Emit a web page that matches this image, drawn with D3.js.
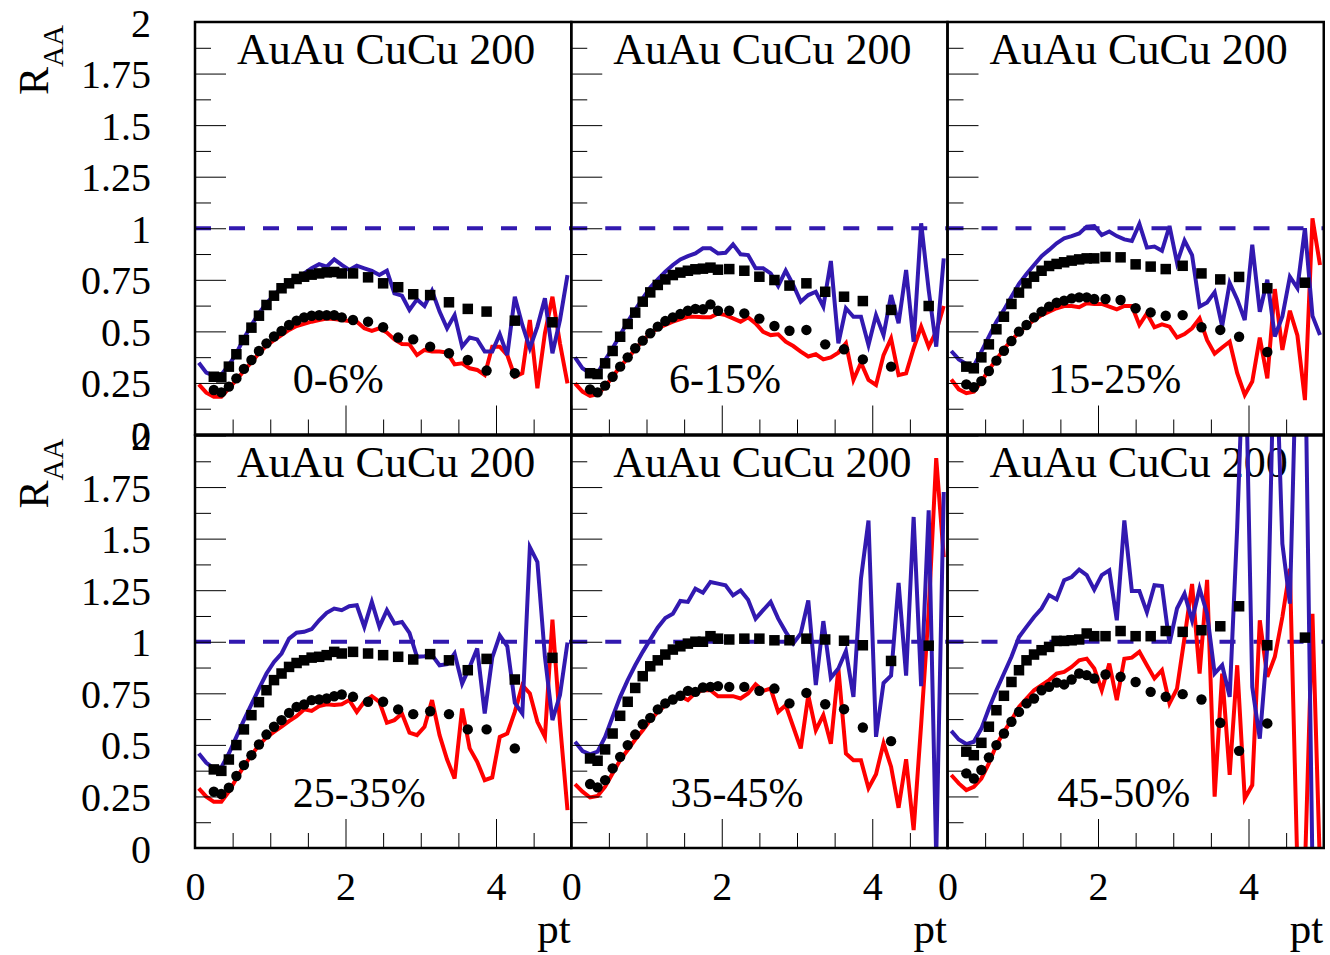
<!DOCTYPE html>
<html>
<head>
<meta charset="utf-8">
<script src="https://cdn.jsdelivr.net/npm/d3@7"></script>
<style>
  body { margin: 0; background: #fff; }
  text { font-family: "Liberation Serif", "Times New Roman", serif; fill: #000; }
</style>
</head>
<body>
<div id="chart"></div>
<script>
// pt bin centres of the model curves and of the data points
const ptLine = [0.05,0.15,0.25,0.35,0.45,0.55,0.65,0.75,0.85,0.95,1.05,1.15,1.25,1.35,1.45,1.55,1.65,1.75,1.85,1.95,
  2.05,2.15,2.25,2.35,2.45,2.55,2.65,2.75,2.85,2.95,3.05,3.15,3.25,3.35,3.45,3.55,3.65,3.75,3.85,3.95,
  4.05,4.15,4.25,4.35,4.45,4.55,4.65,4.75,4.85,4.95];
const ptMarker = [0.25,0.35,0.45,0.55,0.65,0.75,0.85,0.95,1.05,1.15,1.25,1.35,1.45,1.55,1.65,1.75,1.85,1.95,
  2.1,2.3,2.5,2.7,2.9,3.125,3.375,3.625,3.875,4.25,4.75];

const centralities = ["0-6%", "6-15%", "15-25%", "25-35%", "35-45%", "45-50%"];
const centLabelX = [1.3, 1.3, 1.34, 1.3, 1.32, 1.46];
const systemLabel = "AuAu CuCu 200";

const yMajor = [0, 0.25, 0.5, 0.75, 1, 1.25, 1.5, 1.75, 2];
const yMajorLabels = ["0", "0.25", "0.5", "0.75", "1", "1.25", "1.5", "1.75", "2"];
const yMinor = [0.125, 0.375, 0.625, 0.875, 1.125, 1.375, 1.625, 1.875];
const xMajor = [0, 2, 4];
const xMajorLabels = ["0", "2", "4"];
const xMinor = [0.5, 1, 1.5, 2.5, 3, 3.5, 4.5];

// 0-6%
const blue0_6 = [0.348,0.30,0.285,0.29,0.337,0.394,0.466,0.531,0.588,0.636,0.676,0.713,0.741,0.762,0.781,0.806,0.826,0.814,0.849,0.822,
  0.798,0.819,0.806,0.793,0.773,0.794,0.684,0.673,0.604,0.655,0.623,0.697,0.596,0.515,0.579,0.426,0.47,0.461,0.402,0.402,
  0.486,0.385,0.668,0.531,0.418,0.523,0.66,0.394,0.555,0.773];
const red0_6 = [0.243,0.203,0.183,0.183,0.224,0.264,0.309,0.35,0.394,0.431,0.458,0.482,0.507,0.526,0.537,0.547,0.555,0.562,0.56,0.555,
  0.55,0.547,0.515,0.502,0.515,0.494,0.461,0.439,0.437,0.385,0.41,0.402,0.402,0.397,0.34,0.345,0.321,0.313,0.288,0.426,
  0.426,0.385,0.28,0.297,0.555,0.224,0.491,0.668,0.442,0.248];
const sq0_6 = [0.28,0.277,0.329,0.389,0.458,0.518,0.576,0.628,0.673,0.709,0.733,0.754,0.765,0.775,0.781,0.786,0.788,0.781,
  0.781,0.762,0.733,0.714,0.68,0.676,0.641,0.609,0.596,0.552,0.544];
const circ0_6 = [0.216,0.204,0.232,0.272,0.318,0.361,0.405,0.442,0.475,0.502,0.531,0.552,0.568,0.576,0.578,0.578,0.578,0.568,
  0.555,0.547,0.52,0.47,0.461,0.426,0.394,0.361,0.31,0.297,null];

// 6-15%
const blue6_15 = [0.374,0.321,0.297,0.297,0.361,0.418,0.482,0.547,0.604,0.66,0.713,0.752,0.789,0.822,0.849,0.865,0.878,0.903,0.903,0.878,
  0.881,0.922,0.874,0.87,0.806,0.806,0.781,0.72,0.794,0.725,0.644,0.676,0.692,0.62,0.841,0.442,0.612,0.571,0.571,0.434,
  0.579,0.482,0.676,0.539,0.798,0.45,1.024,0.7,0.426,0.854];
const red6_15 = [0.248,0.208,0.187,0.196,0.232,0.28,0.329,0.369,0.413,0.455,0.491,0.515,0.531,0.547,0.56,0.571,0.571,0.568,0.568,0.587,
  0.579,0.563,0.547,0.568,0.539,0.498,0.482,0.486,0.45,0.429,0.402,0.378,0.389,0.364,0.374,0.397,0.442,0.265,0.348,0.265,
  0.24,0.385,0.466,0.288,0.297,0.418,0.523,0.426,0.499,0.623];
const sq6_15 = [0.297,0.293,0.345,0.405,0.474,0.536,0.591,0.644,0.689,0.725,0.752,0.773,0.785,0.794,0.801,0.804,0.809,0.799,
  0.802,0.794,0.765,0.749,0.722,0.733,0.692,0.668,0.647,0.604,0.623];
const circ6_15 = [0.219,0.204,0.237,0.28,0.329,0.374,0.418,0.455,0.491,0.523,0.55,0.568,0.584,0.6,0.609,0.607,0.631,0.6,
  0.6,0.587,0.562,0.526,0.503,0.507,0.437,0.413,0.364,0.329,null];

// 15-25%
const blue15_25 = [0.405,0.364,0.342,0.332,0.402,0.474,0.547,0.604,0.668,0.73,0.778,0.822,0.865,0.895,0.927,0.951,0.962,0.975,1.008,1.011,
  0.967,0.984,0.962,0.946,0.938,1.021,0.906,0.911,0.891,1.011,0.833,0.94,0.87,0.62,0.64,0.69,0.525,0.735,0.655,0.555,
  0.92,0.595,0.75,0.475,0.572,0.765,0.71,1.0,0.575,0.482];
const red15_25 = [0.267,0.219,0.2,0.208,0.256,0.313,0.364,0.413,0.458,0.494,0.526,0.555,0.579,0.596,0.612,0.623,0.623,0.617,0.636,0.633,
  0.633,0.62,0.607,0.623,0.623,0.531,0.587,0.52,0.534,0.523,0.47,0.487,0.515,0.563,0.457,0.392,0.422,0.45,0.297,0.192,
  0.257,0.47,0.272,0.705,0.41,0.6,0.48,0.167,1.048,0.822];
const sq15_25 = [0.329,0.321,0.374,0.437,0.51,0.571,0.633,0.688,0.733,0.765,0.794,0.817,0.827,0.835,0.843,0.849,0.854,0.854,
  0.861,0.859,0.825,0.814,0.802,0.818,0.781,0.752,0.764,0.709,0.736];
const circ15_25 = [0.243,0.229,0.259,0.308,0.358,0.406,0.453,0.499,0.531,0.568,0.596,0.62,0.639,0.649,0.66,0.665,0.665,0.657,
  0.657,0.652,0.612,0.592,0.576,0.579,0.52,0.507,0.474,0.4,null];

// 25-35%
const blue25_35 = [0.458,0.413,0.386,0.391,0.458,0.539,0.62,0.696,0.773,0.846,0.902,0.943,1.015,1.044,1.048,1.061,1.104,1.14,1.161,1.153,
  1.172,1.177,1.072,1.193,1.072,1.153,1.088,1.096,1.043,0.927,0.93,0.935,0.886,0.891,0.943,0.797,0.878,0.967,0.652,0.923,
  1.031,0.978,0.704,0.652,1.459,1.387,0.927,0.62,0.741,0.996];
const red25_35 = [0.289,0.249,0.224,0.224,0.273,0.337,0.397,0.45,0.499,0.536,0.563,0.588,0.615,0.639,0.672,0.665,0.688,0.697,0.693,0.697,
  0.717,0.66,0.709,0.736,0.709,0.607,0.62,0.652,0.559,0.547,0.588,0.717,0.547,0.429,0.337,0.676,0.483,0.418,0.329,0.342,
  0.539,0.555,0.66,0.789,0.749,0.612,0.539,1.107,0.604,0.184];
const sq25_35 = [0.381,0.374,0.429,0.499,0.575,0.644,0.707,0.765,0.814,0.846,0.878,0.897,0.91,0.923,0.927,0.935,0.951,0.943,
  0.951,0.943,0.935,0.927,0.914,0.94,0.91,0.862,0.917,0.817,0.922];
const circ25_35 = [0.273,0.262,0.292,0.349,0.402,0.45,0.502,0.55,0.588,0.62,0.655,0.684,0.696,0.717,0.72,0.725,0.736,0.744,
  0.733,0.709,0.709,0.672,0.649,0.663,0.649,0.575,0.575,0.483,null];

// 35-45%
const blue35_45 = [0.515,0.47,0.454,0.467,0.539,0.636,0.733,0.814,0.886,0.951,1.011,1.069,1.115,1.136,1.198,1.193,1.257,1.238,1.29,1.282,
  1.274,1.225,1.249,1.204,1.112,1.153,1.193,1.112,1.048,0.991,1.04,1.2,0.79,1.1,0.825,0.87,0.955,0.733,1.306,1.588,
  0.539,0.8,0.836,1.285,0.836,1.605,0.785,1.637,-0.05,1.726];
const red35_45 = [0.31,0.273,0.245,0.252,0.297,0.362,0.426,0.475,0.526,0.571,0.62,0.66,0.692,0.72,0.736,0.717,0.752,0.765,0.765,0.736,
  0.736,0.736,0.725,0.749,0.793,0.762,0.773,0.66,0.692,0.588,0.483,0.74,0.571,0.644,0.505,0.87,0.458,0.425,0.425,0.29,
  0.358,0.507,0.394,0.195,0.43,0.087,0.6,1.15,1.89,1.41];
const sq35_45 = [0.434,0.423,0.478,0.555,0.641,0.709,0.776,0.833,0.881,0.91,0.938,0.962,0.978,0.991,1.0,1.0,1.027,1.015,
  1.011,1.015,1.015,1.007,1.007,1.015,1.011,1.005,0.983,0.907,0.981];
const circ35_45 = [0.31,0.294,0.329,0.386,0.442,0.499,0.55,0.6,0.631,0.672,0.701,0.72,0.738,0.762,0.757,0.778,0.781,0.785,
  0.781,0.781,0.762,0.773,0.701,0.752,0.697,0.673,0.584,0.518,null];

// 45-50%
const blue45_50 = [0.568,0.526,0.504,0.515,0.579,0.676,0.765,0.846,0.927,1.023,1.072,1.12,1.161,1.226,1.205,1.298,1.314,1.35,1.323,1.253,
  1.323,1.346,1.104,1.588,1.246,1.246,1.144,1.274,1.27,0.991,1.161,1.233,1.104,1.258,1.136,0.846,0.886,0.733,1.556,2.6,
  0.78,0.53,0.975,2.6,1.475,1.185,2.6,2.5,-0.1,-0.1];
const red45_50 = [0.354,0.313,0.281,0.297,0.337,0.41,0.499,0.563,0.62,0.684,0.725,0.765,0.789,0.814,0.846,0.854,0.878,0.91,0.918,0.87,
  0.765,0.894,0.717,0.918,0.923,0.951,0.886,0.822,0.862,0.701,0.773,1.02,1.28,0.846,1.3,0.249,0.846,0.355,0.886,0.24,
  0.305,1.104,0.83,0.927,1.12,1.354,-0.1,-0.1,1.136,-0.1];
const sq45_50 = [0.467,0.45,0.51,0.588,0.668,0.738,0.805,0.862,0.91,0.938,0.959,0.975,1.004,1.004,1.007,1.011,1.04,1.027,
  1.027,1.052,1.027,1.027,1.052,1.048,1.056,1.075,1.172,0.983,1.02];
const circ45_50 = [0.362,0.337,0.378,0.439,0.499,0.555,0.612,0.66,0.701,0.725,0.765,0.781,0.802,0.793,0.817,0.846,0.838,0.822,
  0.841,0.83,0.805,0.757,0.733,0.746,0.72,0.607,0.471,0.604,null];

const blueSeries = [blue0_6, blue6_15, blue15_25, blue25_35, blue35_45, blue45_50];
const redSeries = [red0_6, red6_15, red15_25, red25_35, red35_45, red45_50];
const sqSeries = [sq0_6, sq6_15, sq15_25, sq25_35, sq35_45, sq45_50];
const circSeries = [circ0_6, circ6_15, circ15_25, circ25_35, circ35_45, circ45_50];

const BLUE = "#3219b0", RED = "#ff0000";
const W = 1330, H = 955;
const colLeft = [195, 571.25, 947.5];
const panelW = 376.25;
const rowBox = [[22, 434.5], [435.5, 848]];

const svg = d3.select("#chart").append("svg")
    .attr("width", W)
    .attr("height", H);
svg.append("rect").attr("width", W).attr("height", H).attr("fill", "#fff");

centralities.forEach((cent, k) => {
    const col = k % 3, row = Math.floor(k / 3);
    const x = d3.scaleLinear().domain([0, 5]).range([colLeft[col], colLeft[col] + panelW]);
    const y = d3.scaleLinear().domain([0, 2]).range([rowBox[row][1], rowBox[row][0]]);
    const g = svg.append("g").attr("class", "panel");

    // clip region = frame
    g.append("clipPath").attr("id", "clip" + k)
        .append("rect")
        .attr("x", x(0)).attr("y", y(2))
        .attr("width", x(5) - x(0)).attr("height", y(0) - y(2));

    // labels inside the pad
    g.append("text")
        .attr("x", x(0) + 42)
        .attr("y", y(2) + 41.5)
        .style("font-size", "44px")
        .text(systemLabel);
    g.append("text")
        .attr("x", x(centLabelX[k]))
        .attr("y", y(0.2))
        .style("font-size", "42px")
        .text(cent);

    const plot = g.append("g").attr("clip-path", `url(#clip${k})`);

    // R_AA = 1 reference
    plot.append("line")
        .attr("x1", x(0)).attr("x2", x(5))
        .attr("y1", y(1)).attr("y2", y(1))
        .style("stroke", BLUE)
        .style("stroke-width", 4)
        .style("stroke-dasharray", "16,18");

    const line = d3.line()
        .x(d => x(d[0]))
        .y(d => y(d[1]));

    plot.append("path")
        .datum(ptLine.map((p, i) => [p, redSeries[k][i]]))
        .attr("d", line)
        .style("fill", "none")
        .style("stroke", RED)
        .style("stroke-width", 4)
        .style("stroke-linejoin", "miter");

    plot.append("path")
        .datum(ptLine.map((p, i) => [p, blueSeries[k][i]]))
        .attr("d", line)
        .style("fill", "none")
        .style("stroke", BLUE)
        .style("stroke-width", 4)
        .style("stroke-linejoin", "miter");

    // squares
    plot.selectAll(".sq")
        .data(ptMarker.map((p, i) => [p, sqSeries[k][i]]).filter(d => d[1] !== null))
        .enter()
        .append("rect")
        .attr("class", "sq")
        .attr("x", d => x(d[0]) - 5.25)
        .attr("y", d => y(d[1]) - 5.25)
        .attr("width", 10.5)
        .attr("height", 10.5)
        .style("fill", "#000");

    // circles
    plot.selectAll(".circ")
        .data(ptMarker.map((p, i) => [p, circSeries[k][i]]).filter(d => d[1] !== null))
        .enter()
        .append("circle")
        .attr("class", "circ")
        .attr("cx", d => x(d[0]))
        .attr("cy", d => y(d[1]))
        .attr("r", 5.2)
        .style("fill", "#000");

    // y axis: minor + major ticks pointing inwards
    const yMinorAxis = d3.axisLeft(y).tickValues(yMinor).tickSizeInner(-16).tickSizeOuter(0).tickFormat("");
    const yMajorAxis = d3.axisLeft(y).tickValues(yMajor).tickSizeInner(-31).tickSizeOuter(0).tickPadding(44)
        .tickFormat((d, i) => col === 0 ? yMajorLabels[i] : "");
    [yMinorAxis, yMajorAxis].forEach(ax => {
        const a = g.append("g").attr("transform", `translate(${x(0)},0)`).call(ax);
        a.select(".domain").remove();
        a.selectAll("line").style("stroke", "#000").style("stroke-width", 1);
        a.selectAll("text").style("font-size", "40px").attr("dy", "0.35em")
            .style("font-family", "'Liberation Serif','Times New Roman',serif");
    });

    // x axis
    const xMinorAxis = d3.axisBottom(x).tickValues(xMinor).tickSizeInner(-15).tickSizeOuter(0).tickFormat("");
    const xMajorAxis = d3.axisBottom(x).tickValues(xMajor).tickSizeInner(-29).tickSizeOuter(0)
        .tickFormat((d, i) => row === 1 ? xMajorLabels[i] : "");
    [xMinorAxis, xMajorAxis].forEach(ax => {
        const a = g.append("g").attr("transform", `translate(0,${y(0)})`).call(ax);
        a.select(".domain").remove();
        a.selectAll("line").style("stroke", "#000").style("stroke-width", 1);
        a.selectAll("text").style("font-size", "40px").attr("y", 24).attr("dy", "0.71em")
            .style("font-family", "'Liberation Serif','Times New Roman',serif");
    });

    // frame
    g.append("rect")
        .attr("x", x(0)).attr("y", y(2))
        .attr("width", x(5) - x(0)).attr("height", y(0) - y(2))
        .style("fill", "none")
        .style("stroke", "#000")
        .style("stroke-width", 2.5);

    if (row === 1) {
        g.append("text")
            .attr("x", x(5) - 0.5)
            .attr("y", 943)
            .attr("text-anchor", "end")
            .style("font-size", "43px")
            .text("pt");
    }
    if (col === 0) {
        const t = g.append("text")
            .attr("transform", `translate(48,${y(2) + 3}) rotate(-90)`)
            .attr("text-anchor", "end")
            .style("font-size", "42px");
        t.append("tspan").text("R");
        t.append("tspan").attr("dy", 15).style("font-size", "29px").text("AA");
    }
});
</script>
</body>
</html>
